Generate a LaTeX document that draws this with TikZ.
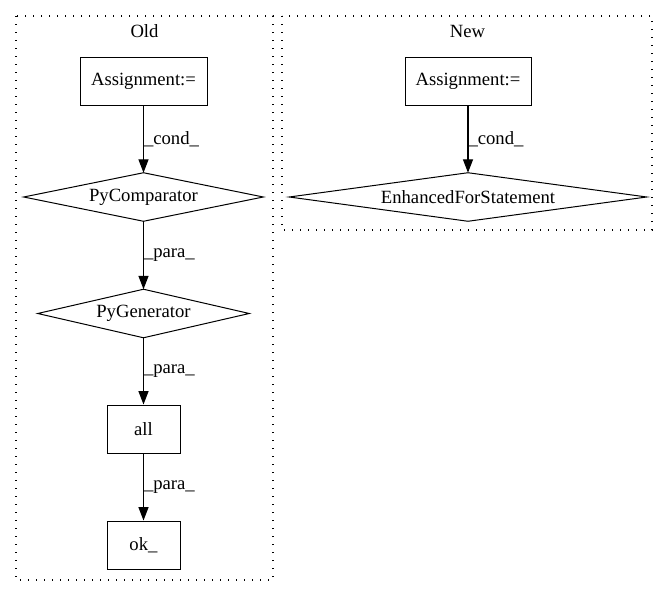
\documentclass[tikz,border=0pt]{standalone}
\usepackage{fontspec}
\setmainfont{Liberation Serif}
\usetikzlibrary{arrows.meta}
\begin{document}
\begin{tikzpicture}[x=0.75pt,y=-0.75pt,
  every node/.style={font=\fontsize{14}{16}\selectfont, inner sep=0pt},
  box/.style={draw, line width=0.75pt, minimum width=#1, minimum height=36pt},
  dmd/.style={minimum width=#1, minimum height=36pt},
  cluster/.style={line width=0.8pt, dash pattern=on 1pt off 5pt},
  edge/.style={line width=0.8pt, -{Triangle[length=10pt,width=7.5pt]}},
  lbl/.style={right}
]
\useasboundingbox (0,0) rectangle (669,596);
% clusters
\draw[cluster] (16,16) rectangle (273,580);
\draw[cluster] (282,16) rectangle (652,230);
\node (oldlbl) at (144.5,31) {Old};
\node (newlbl) at (467.5,31) {New};
% old nodes
\node[box=95.25pt] (oa) at (143.5,81) {Assignment:=};
\node[dmd=179.25pt] (pc) at (143.5,197) {PyComparator};
\draw[line width=0.75pt] (pc.west) -- (pc.north) -- (pc.east) -- (pc.south) -- cycle;
\node[dmd=158.25pt] (pg) at (143.5,313.5) {PyGenerator};
\draw[line width=0.75pt] (pg.west) -- (pg.north) -- (pg.east) -- (pg.south) -- cycle;
\node[box=54.75pt] (all) at (143.5,429) {all};
\node[box=54.75pt] (ok) at (143.5,545) {ok\_};
% new nodes
\node[box=94.5pt] (na) at (468,81) {Assignment:=};
\node[dmd=267.75pt] (ef) at (468,197) {EnhancedForStatement};
\draw[line width=0.75pt] (ef.west) -- (ef.north) -- (ef.east) -- (ef.south) -- cycle;
% edges
\draw[edge] (oa.south) -- node[lbl] {\_cond\_} (pc.north);
\draw[edge] (pc.south) -- node[lbl] {\_para\_} (pg.north);
\draw[edge] (pg.south) -- node[lbl] {\_para\_} (all.north);
\draw[edge] (all.south) -- node[lbl] {\_para\_} (ok.north);
\draw[edge] (na.south) -- node[lbl] {\_cond\_} (ef.north);
\end{tikzpicture}
\end{document}
